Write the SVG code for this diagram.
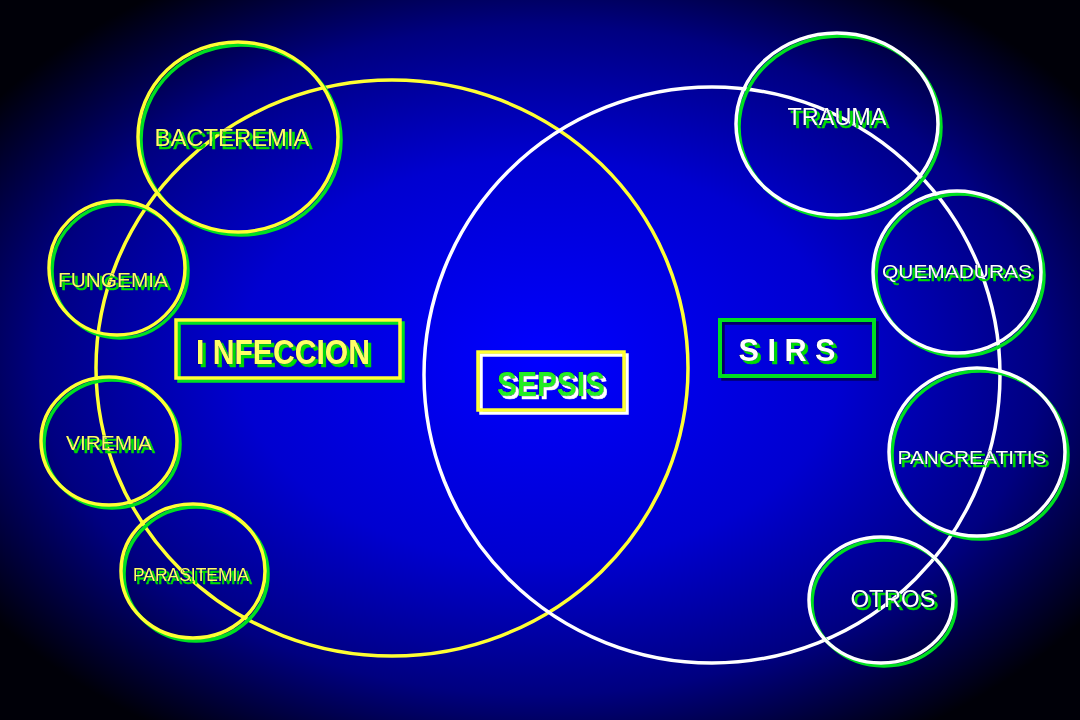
<svg xmlns="http://www.w3.org/2000/svg" width="1080" height="720" viewBox="0 0 1080 720">
<defs>
<radialGradient id="bg" cx="0.5" cy="0.5" r="0.62">
<stop offset="0" stop-color="#0000ff"/>
<stop offset="0.45" stop-color="#0000d0"/>
<stop offset="0.75" stop-color="#000080"/>
<stop offset="1" stop-color="#000008"/>
</radialGradient>
<filter id="gsh" x="-10%" y="-30%" width="120%" height="160%">
<feFlood flood-color="#00dd00" result="c"/>
<feComposite in="c" in2="SourceAlpha" operator="in" result="s"/>
<feOffset in="s" dx="2.5" dy="2.5" result="o"/>
<feMerge><feMergeNode in="o"/><feMergeNode in="SourceGraphic"/></feMerge>
</filter>
<filter id="wsh" x="-10%" y="-30%" width="120%" height="160%">
<feFlood flood-color="#ffffff" result="c"/>
<feComposite in="c" in2="SourceAlpha" operator="in" result="s"/>
<feOffset in="s" dx="2.5" dy="2.5" result="o"/>
<feMerge><feMergeNode in="o"/><feMergeNode in="SourceGraphic"/></feMerge>
</filter>
<style>
.ys{fill:none;stroke:#ffff33;stroke-width:3.5}
.ws{fill:none;stroke:#ffffff;stroke-width:3.5}
.gs{fill:none;stroke:#00e020;stroke-width:3.5}
.lbl{font-family:"Liberation Sans",Arial,sans-serif;text-anchor:middle;filter:url(#gsh)}
.ty{fill:#ffff66;stroke:#000050;stroke-width:0.6;paint-order:stroke}
.tw{fill:#ffffff;stroke:#000050;stroke-width:0.6;paint-order:stroke}
.big{font-weight:bold}
</style>
</defs>
<rect width="1080" height="720" fill="url(#bg)"/>
<g id="connectors"></g>
<g id="infeccion-circle"><ellipse class="ys" cx="392" cy="368" rx="296" ry="288"/></g>
<g id="sirs-circle"><ellipse class="ws" cx="712" cy="375" rx="288" ry="288"/></g>

<g id="bacteremia">
<ellipse class="gs" cx="241" cy="140" rx="100" ry="95"/>
<ellipse class="ys" cx="238" cy="137" rx="100" ry="95"/>
<text class="lbl ty" x="232" y="146" font-size="24" textLength="155" lengthAdjust="spacingAndGlyphs">BACTEREMIA</text>
</g>
<g id="fungemia">
<ellipse class="gs" cx="120" cy="271" rx="68" ry="67"/>
<ellipse class="ys" cx="117" cy="268" rx="68" ry="67"/>
<text class="lbl ty" x="113" y="287" font-size="21" textLength="110" lengthAdjust="spacingAndGlyphs">FUNGEMIA</text>
</g>
<g id="viremia">
<ellipse class="gs" cx="112" cy="444" rx="68" ry="64"/>
<ellipse class="ys" cx="109" cy="441" rx="68" ry="64"/>
<text class="lbl ty" x="109" y="450" font-size="21" textLength="86" lengthAdjust="spacingAndGlyphs">VIREMIA</text>
</g>
<g id="parasitemia">
<ellipse class="gs" cx="196" cy="574" rx="72" ry="67"/>
<ellipse class="ys" cx="193" cy="571" rx="72" ry="67"/>
<text class="lbl ty" x="191" y="581" font-size="18" textLength="116" lengthAdjust="spacingAndGlyphs">PARASITEMIA</text>
</g>

<g id="trauma">
<ellipse class="gs" cx="840" cy="127" rx="101" ry="91"/>
<ellipse class="ws" cx="837" cy="124" rx="101" ry="91"/>
<text class="lbl tw" x="837" y="125" font-size="23" textLength="99" lengthAdjust="spacingAndGlyphs">TRAUMA</text>
</g>
<g id="quemaduras">
<ellipse class="gs" cx="960" cy="275" rx="84" ry="81"/>
<ellipse class="ws" cx="957" cy="272" rx="84" ry="81"/>
<text class="lbl tw" x="957" y="278" font-size="19" textLength="150" lengthAdjust="spacingAndGlyphs">QUEMADURAS</text>
</g>
<g id="pancreatitis">
<ellipse class="gs" cx="980" cy="455" rx="88" ry="84"/>
<ellipse class="ws" cx="977" cy="452" rx="88" ry="84"/>
<text class="lbl tw" x="972" y="464" font-size="19" textLength="149" lengthAdjust="spacingAndGlyphs">PANCREATITIS</text>
</g>
<g id="otros">
<ellipse class="gs" cx="884" cy="603" rx="72" ry="63"/>
<ellipse class="ws" cx="881" cy="600" rx="72" ry="63"/>
<text class="lbl tw" x="893" y="607" font-size="23" textLength="85" lengthAdjust="spacingAndGlyphs">OTROS</text>
</g>

<g id="infeccion">
<rect x="179" y="323" width="224" height="58" fill="none" stroke="#00e020" stroke-width="3.5"/>
<rect x="176" y="320" width="224" height="58" fill="none" stroke="#ffff33" stroke-width="3.5"/>
<text class="lbl big ty" x="283" y="364" font-size="35" textLength="174" lengthAdjust="spacingAndGlyphs">I NFECCION</text>
</g>
<g id="sepsis">
<rect x="481" y="355" width="146" height="58" fill="none" stroke="#ffffff" stroke-width="3.5"/>
<rect x="478" y="352" width="146" height="58" fill="none" stroke="#ffff33" stroke-width="3.5"/>
<text class="lbl big" style="filter:url(#wsh)" fill="#22ee22" stroke="#000050" stroke-width="0.6" paint-order="stroke" x="551" y="396" font-size="35" textLength="108" lengthAdjust="spacingAndGlyphs">SEPSIS</text>
</g>
<g id="sirs">
<rect x="723" y="323" width="154" height="56" fill="none" stroke="#000066" stroke-width="3.5"/>
<rect x="720" y="320" width="154" height="56" fill="none" stroke="#00e020" stroke-width="4"/>
<text class="lbl big tw" x="787" y="361" font-size="32" textLength="97" lengthAdjust="spacingAndGlyphs">S I R S</text>
</g>
</svg>
